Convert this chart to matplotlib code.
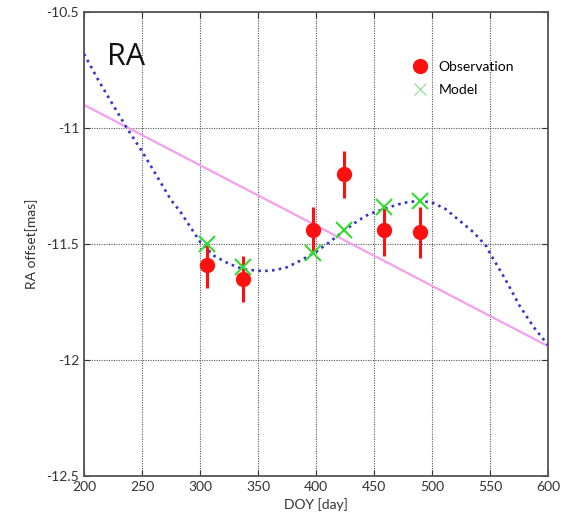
import matplotlib.pyplot as plt
from matplotlib.lines import Line2D

plt.rcParams['font.family'] = ['Lato', 'DejaVu Sans']

# observations (DOY, RA offset, error)
obs_doy = [306, 337, 397, 424, 459, 490]
obs_ra = [-11.59, -11.65, -11.44, -11.20, -11.44, -11.45]
obs_err = [0.10, 0.10, 0.10, 0.10, 0.11, 0.11]

# model values at observation epochs
mod_doy = [306, 337, 397, 424, 459, 490]
mod_ra = [-11.50, -11.60, -11.54, -11.44, -11.34, -11.315]

# model curve (parallax + proper motion)
curve_doy = [200, 212, 225, 237, 250, 262, 275, 283, 300, 312, 325, 337, 350,
             356, 365, 375, 387, 400, 412, 425, 436, 446, 458, 470, 480, 490,
             500, 512, 524, 536, 547, 550, 563, 576, 588, 600]
curve_ra = [-10.68, -10.79, -10.90, -11.00, -11.10, -11.20, -11.31, -11.36,
            -11.49, -11.55, -11.585, -11.608, -11.615, -11.616, -11.612,
            -11.60, -11.57, -11.534, -11.49, -11.44, -11.40, -11.37, -11.35,
            -11.33, -11.318, -11.315, -11.32, -11.35, -11.40, -11.45, -11.51,
            -11.54, -11.65, -11.77, -11.86, -11.935]

# linear proper-motion trend
trend_doy = [200, 600]
trend_ra = [-10.90, -11.94]

fig = plt.figure(figsize=(5.61, 5.26), dpi=100)
ax = fig.add_axes([0.1497, 0.095, 0.8271, 0.882])

ax.plot(trend_doy, trend_ra, color='#f2a0ee', lw=1.6, zorder=2)
ax.plot(curve_doy, curve_ra, color='#3535c8', lw=1.9,
        linestyle=(0, (1, 1.6)), zorder=3)
ax.errorbar(obs_doy, obs_ra, yerr=obs_err, fmt='o', color='#ff1010',
            ms=10, elinewidth=2.2, capsize=0, zorder=4)
ax.plot(mod_doy, mod_ra, 'x', color='#33dd33', ms=12, mew=1.5, zorder=5)

ax.set_xlim(200, 600)
ax.set_ylim(-12.5, -10.5)
ax.set_xticks([200, 250, 300, 350, 400, 450, 500, 550, 600])
ax.set_yticks([-12.5, -12, -11.5, -11, -10.5])
ax.set_yticklabels(['-12.5', '-12', '-11.5', '-11', '-10.5'])
ax.grid(True, color='#555555', linestyle=(0, (1, 1.2)), lw=0.8)
ax.tick_params(direction='in', length=4, top=True, right=True,
               labelsize=10, colors='#333333', labelcolor='#333333')
for s in ax.spines.values():
    s.set_color('#555555')
    s.set_linewidth(1.3)

ax.set_xlabel('DOY [day]', fontsize=10, color='#333333', labelpad=4)
ax.set_ylabel('RA offset[mas]', fontsize=10, color='#333333', labelpad=6)

ax.text(0.05, 0.885, 'RA', transform=ax.transAxes, fontsize=22,
        color='#111111', ha='left', va='baseline',
        family=['Open Sans', 'DejaVu Sans'])

handles = [
    Line2D([], [], marker='o', color='#ff1010', ls='none', ms=10),
    Line2D([], [], marker='x', color='#88dd88', ls='none', ms=9, mew=0.8),
]
ax.legend(handles, ['Observation', 'Model'], loc='upper left',
          bbox_to_anchor=(0.68, 0.91), frameon=False, fontsize=10,
          handletextpad=0.3, labelspacing=0.8, borderpad=0)

fig.savefig('out.png', dpi=100)
